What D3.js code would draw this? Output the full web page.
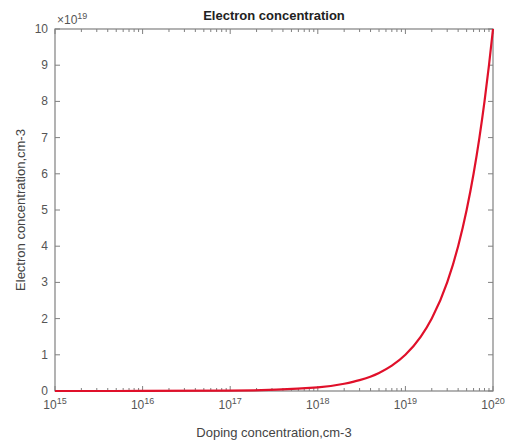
<!DOCTYPE html>
<html>
<head>
<meta charset="utf-8">
<script src="https://cdn.jsdelivr.net/npm/d3@7"></script>
<style>
body { margin: 0; background: #fff; }
svg { font-family: "Liberation Sans", Arial, sans-serif; }
</style>
</head>
<body>
<svg></svg>
<script>
const svgWidth = 510
const svgHeight = 441
const margins = {top: 29, bottom: 50, left: 55, right: 17}
const plotWidth = svgWidth - margins.left - margins.right
const plotHeight = svgHeight - margins.top - margins.bottom

// doping concentration (cm-3) and electron concentration (x10^19 cm-3)
const doping = [1e15, 1e16, 1e17, 1e18, 2e18, 3e18, 5e18, 7e18, 1e19, 1.5e19, 2e19, 3e19, 4e19, 5e19, 6e19, 7e19, 8e19, 9e19, 1e20]
const electrons = [0.0001, 0.001, 0.01, 0.1, 0.2, 0.3, 0.5, 0.7, 1, 1.5, 2, 3, 4, 5, 6, 7, 8, 9, 10]
const xTickExps = [15, 16, 17, 18, 19, 20]
const yTicks = [0, 1, 2, 3, 4, 5, 6, 7, 8, 9, 10]

const axisColor = "#808080"
const textColor = "#555"

const svg = d3.select("svg")
  .attr("width", svgWidth)
  .attr("height", svgHeight)

const xScale = d3.scaleLog()
  .domain([1e15, 1e20])
  .range([0, plotWidth])
const yScale = d3.scaleLinear()
  .domain([0, 10])
  .range([plotHeight, 0])

const g = svg.append("g")
  .attr("transform", `translate(${margins.left},${margins.top})`)

// minor ticks for log axis
const minorTicks = []
for (let e = 15; e < 20; e++) {
  for (let m = 2; m <= 9; m++) minorTicks.push(m * Math.pow(10, e))
}

function tickLines(sel, vals, len, scale, horizontal) {
  vals.forEach((v) => {
    if (horizontal) {
      const x = scale(v)
      sel.append("line").attr("x1", x).attr("x2", x).attr("y1", plotHeight).attr("y2", plotHeight - len)
      sel.append("line").attr("x1", x).attr("x2", x).attr("y1", 0).attr("y2", len)
    } else {
      const y = scale(v)
      sel.append("line").attr("x1", 0).attr("x2", len).attr("y1", y).attr("y2", y)
      sel.append("line").attr("x1", plotWidth).attr("x2", plotWidth - len).attr("y1", y).attr("y2", y)
    }
  })
}

const ticks = g.append("g").attr("stroke", axisColor).attr("stroke-width", 1)
tickLines(ticks, xTickExps.map((e) => Math.pow(10, e)), 5, xScale, true)
tickLines(ticks, minorTicks, 3, xScale, true)
tickLines(ticks, yTicks, 5, yScale, false)

// box
g.append("rect")
  .attr("x", 0).attr("y", 0)
  .attr("width", plotWidth).attr("height", plotHeight)
  .attr("fill", "none")
  .attr("stroke", axisColor)
  .attr("stroke-width", 1.2)

// x tick labels
const xl = g.append("g").attr("fill", textColor).attr("font-size", 12)
xTickExps.forEach((e) => {
  const t = xl.append("text")
    .attr("x", xScale(Math.pow(10, e)))
    .attr("y", plotHeight + 18)
    .attr("text-anchor", "middle")
  t.append("tspan").text("10")
  t.append("tspan").attr("font-size", 9).attr("dy", -5).text(e)
})

// y tick labels
g.append("g").attr("fill", textColor).attr("font-size", 12)
  .selectAll("text")
  .data(yTicks)
  .enter()
  .append("text")
  .attr("x", -7)
  .attr("y", (d) => yScale(d) + 4)
  .attr("text-anchor", "end")
  .text((d) => d)

// exponent label
const ex = g.append("text")
  .attr("x", 2)
  .attr("y", -5)
  .attr("fill", textColor)
  .attr("font-size", 12)
ex.append("tspan").text("\u00d710")
ex.append("tspan").attr("font-size", 9).attr("dy", -5).text("19")

// curve
const line = d3.line()
  .x((d, i) => xScale(doping[i]))
  .y((d) => yScale(d))
  .curve(d3.curveMonotoneX)

g.append("path")
  .datum(electrons)
  .attr("d", line)
  .attr("fill", "none")
  .attr("stroke", "#e0102a")
  .attr("stroke-width", 2.2)

// title and axis labels
svg.append("text")
  .attr("x", margins.left + plotWidth / 2)
  .attr("y", 20)
  .attr("text-anchor", "middle")
  .attr("font-size", 13)
  .attr("font-weight", "bold")
  .attr("fill", "#222")
  .text("Electron concentration")

svg.append("text")
  .attr("x", margins.left + plotWidth / 2)
  .attr("y", 437)
  .attr("text-anchor", "middle")
  .attr("font-size", 13)
  .attr("fill", "#444")
  .text("Doping concentration,cm-3")

svg.append("text")
  .attr("transform", `translate(25,${margins.top + plotHeight / 2}) rotate(-90)`)
  .attr("text-anchor", "middle")
  .attr("font-size", 13)
  .attr("fill", "#444")
  .text("Electron concentration,cm-3")
</script>
</body>
</html>
